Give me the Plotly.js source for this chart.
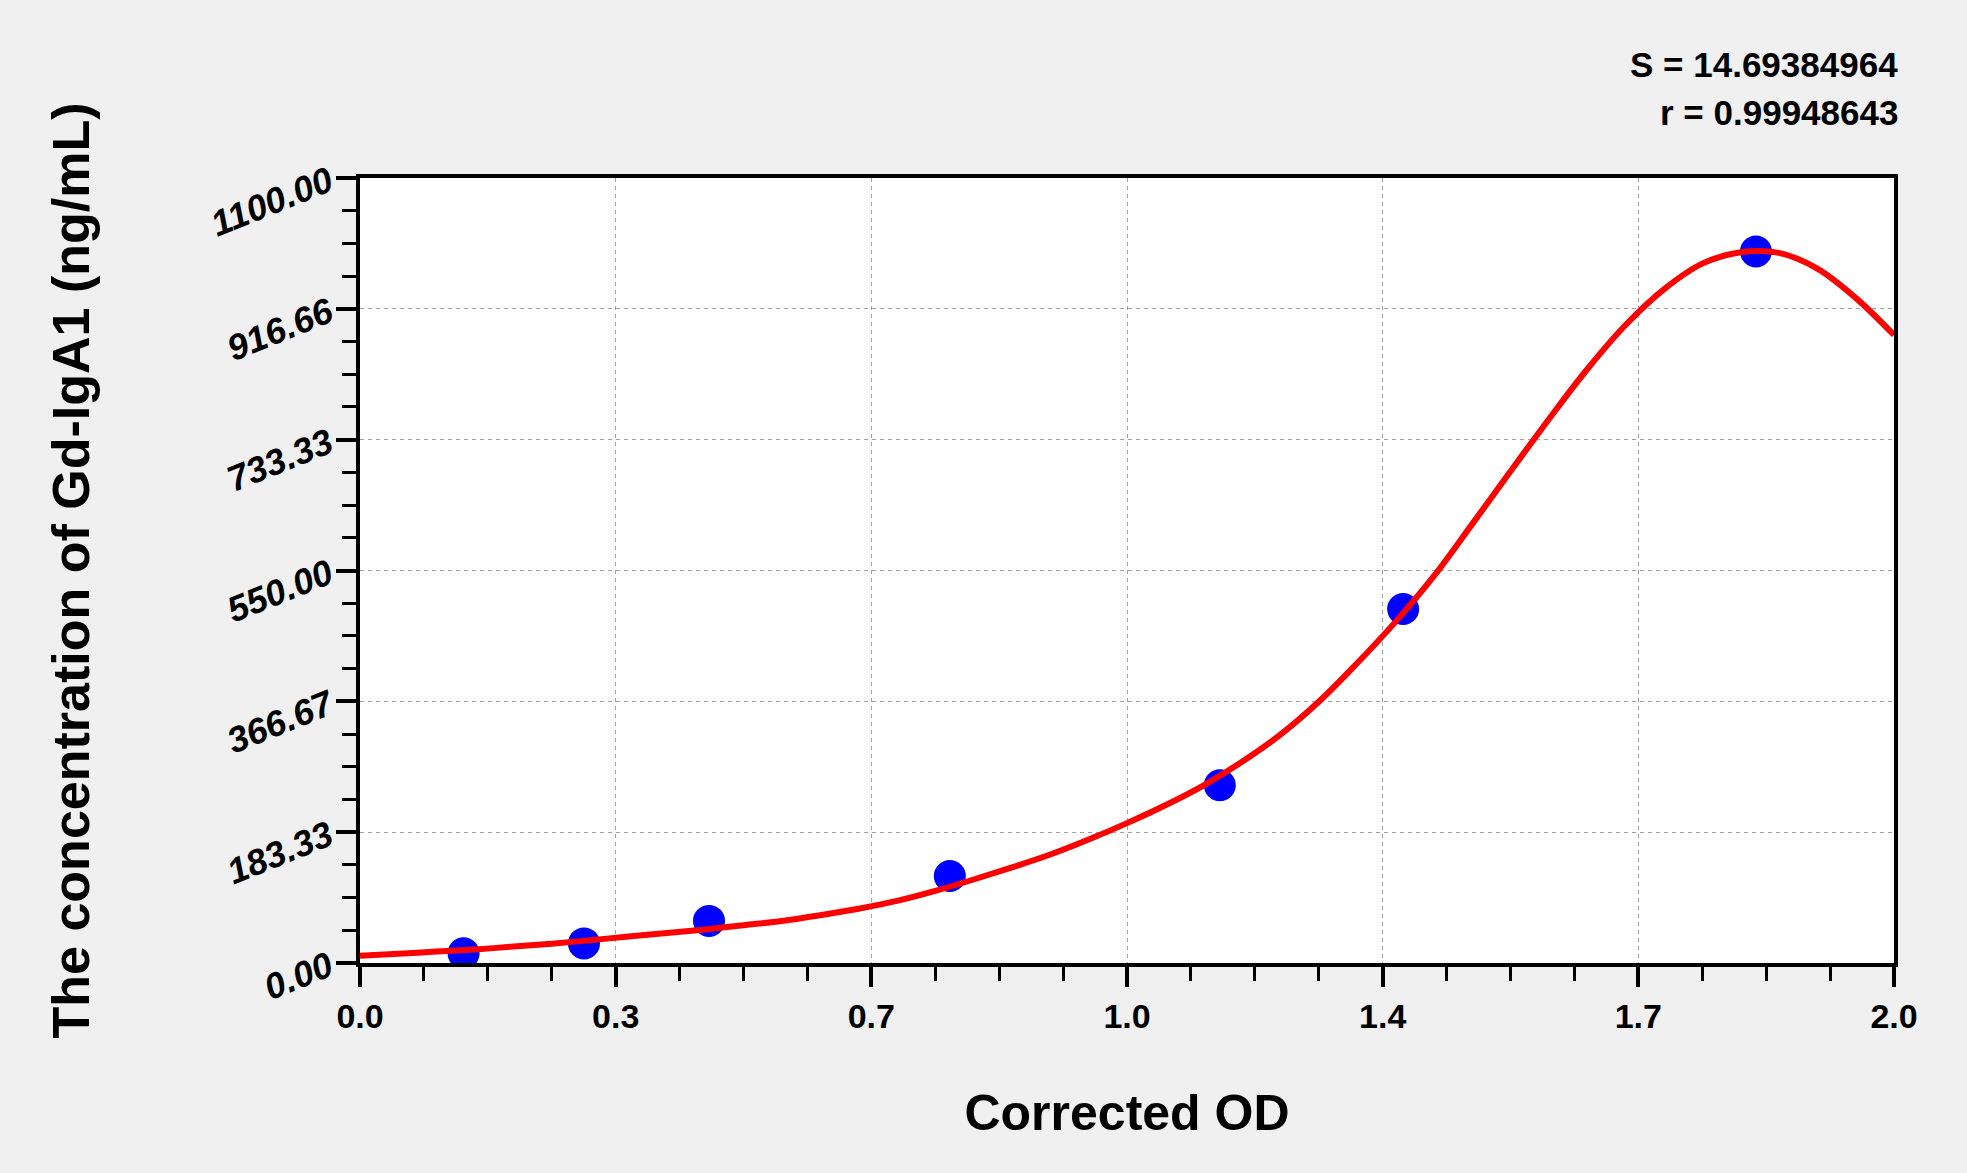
<!DOCTYPE html>
<html>
<head>
<meta charset="utf-8">
<script src="https://cdn.plot.ly/plotly-3.0.1.min.js"></script>
<style>
  html, body { margin: 0; padding: 0; background: #f0f0f0; }
  #myDiv { width: 1967px; height: 1173px; }
</style>
</head>
<body>
<div id="myDiv"></div>
<script>
// measured standards (corrected OD vs concentration)
const pointOD = [0.135, 0.292, 0.455, 0.769, 1.121, 1.360, 1.820];
const pointConc = [13.5, 27.5, 59, 122, 249, 496, 997];

// fitted curve, every 0.05 OD
const curveOD = [0, 0.05, 0.10, 0.15, 0.20, 0.25, 0.30, 0.35, 0.40, 0.45,
  0.50, 0.55, 0.60, 0.65, 0.70, 0.75, 0.80, 0.85, 0.90, 0.95,
  1.00, 1.05, 1.10, 1.15, 1.20, 1.25, 1.30, 1.35, 1.40, 1.45,
  1.50, 1.55, 1.60, 1.65, 1.70, 1.75, 1.80, 1.85, 1.90, 1.95, 2.00];
const curveConc = [10, 13, 16, 19, 23, 27, 32, 37, 42, 47,
  53, 59, 67, 76, 87, 101, 117, 134, 152, 173,
  196, 221, 249, 282, 320, 366, 420, 478, 542, 615,
  689, 762, 832, 894, 944, 980, 996, 995, 973, 932, 880];

const xTickVals = [0, 1 / 3, 2 / 3, 1, 4 / 3, 5 / 3, 2];
const xTickText = ['0.0', '0.3', '0.7', '1.0', '1.4', '1.7', '2.0'];
const yTickVals = [0, 1100 / 6, 2200 / 6, 550, 4400 / 6, 5500 / 6, 1100];
const yTickText = ['0.00', '183.33', '366.67', '550.00', '733.33', '916.66', '1100.00'];

const fitStats = ['S = 14.69384964', 'r = 0.99948643'];

const font = 'Liberation Sans, Arial, sans-serif';

let points = {
  x: pointOD,
  y: pointConc,
  mode: 'markers',
  type: 'scatter',
  marker: {color: '#0000ff', size: 32},
  showlegend: false
};

let curve = {
  x: curveOD,
  y: curveConc,
  mode: 'lines',
  type: 'scatter',
  line: {color: '#ff0000', width: 6, shape: 'spline', smoothing: 1},
  showlegend: false
};

let layout = {
  width: 1967,
  height: 1173,
  paper_bgcolor: '#f0f0f0',
  plot_bgcolor: '#ffffff',
  margin: {l: 360, r: 73, t: 178, b: 210},
  font: {family: font, color: '#000000'},
  xaxis: {
    range: [0, 2],
    tickmode: 'array',
    tickvals: xTickVals,
    ticktext: xTickText,
    ticks: 'outside',
    ticklen: 20,
    tickwidth: 4,
    tickcolor: '#000',
    tickfont: {family: font, size: 34, weight: 'bold'},
    showline: true,
    linewidth: 4,
    linecolor: '#000',
    mirror: true,
    showgrid: true,
    gridcolor: '#a0a0a0',
    gridwidth: 1,
    griddash: '4px,4px',
    zeroline: false,
    minor: {dtick: 1 / 12, tick0: 0, ticks: 'outside', ticklen: 14, tickwidth: 3, tickcolor: '#000', showgrid: false},
    title: {text: 'Corrected OD', font: {family: font, size: 50, weight: 'bold'}, standoff: 62}
  },
  yaxis: {
    range: [0, 1100],
    tickmode: 'array',
    tickvals: yTickVals,
    ticktext: yTickText,
    tickangle: -22,
    ticks: 'outside',
    ticklen: 20,
    tickwidth: 4,
    tickcolor: '#000',
    tickfont: {family: font, size: 36, weight: 'bold', style: 'italic'},
    showline: true,
    linewidth: 4,
    linecolor: '#000',
    mirror: true,
    showgrid: true,
    gridcolor: '#a0a0a0',
    gridwidth: 1,
    griddash: '4px,4px',
    zeroline: false,
    minor: {dtick: 1100 / 24, tick0: 0, ticks: 'outside', ticklen: 14, tickwidth: 3, tickcolor: '#000', showgrid: false},
    title: {text: 'The concentration of Gd-IgA1 (ng/mL)', font: {family: font, size: 52, weight: 'bold'}, standoff: 100}
  },
  annotations: [
    {text: fitStats[0], xref: 'paper', yref: 'paper', x: 1, y: 1.144, xanchor: 'right', yanchor: 'middle',
     xshift: 6, showarrow: false, font: {family: font, size: 35, weight: 'bold'}},
    {text: fitStats[1], xref: 'paper', yref: 'paper', x: 1, y: 1.084, xanchor: 'right', yanchor: 'middle',
     xshift: 6, showarrow: false, font: {family: font, size: 35, weight: 'bold'}}
  ]
};

Plotly.newPlot('myDiv', [points, curve], layout, {displayModeBar: false, staticPlot: true});
</script>
</body>
</html>
